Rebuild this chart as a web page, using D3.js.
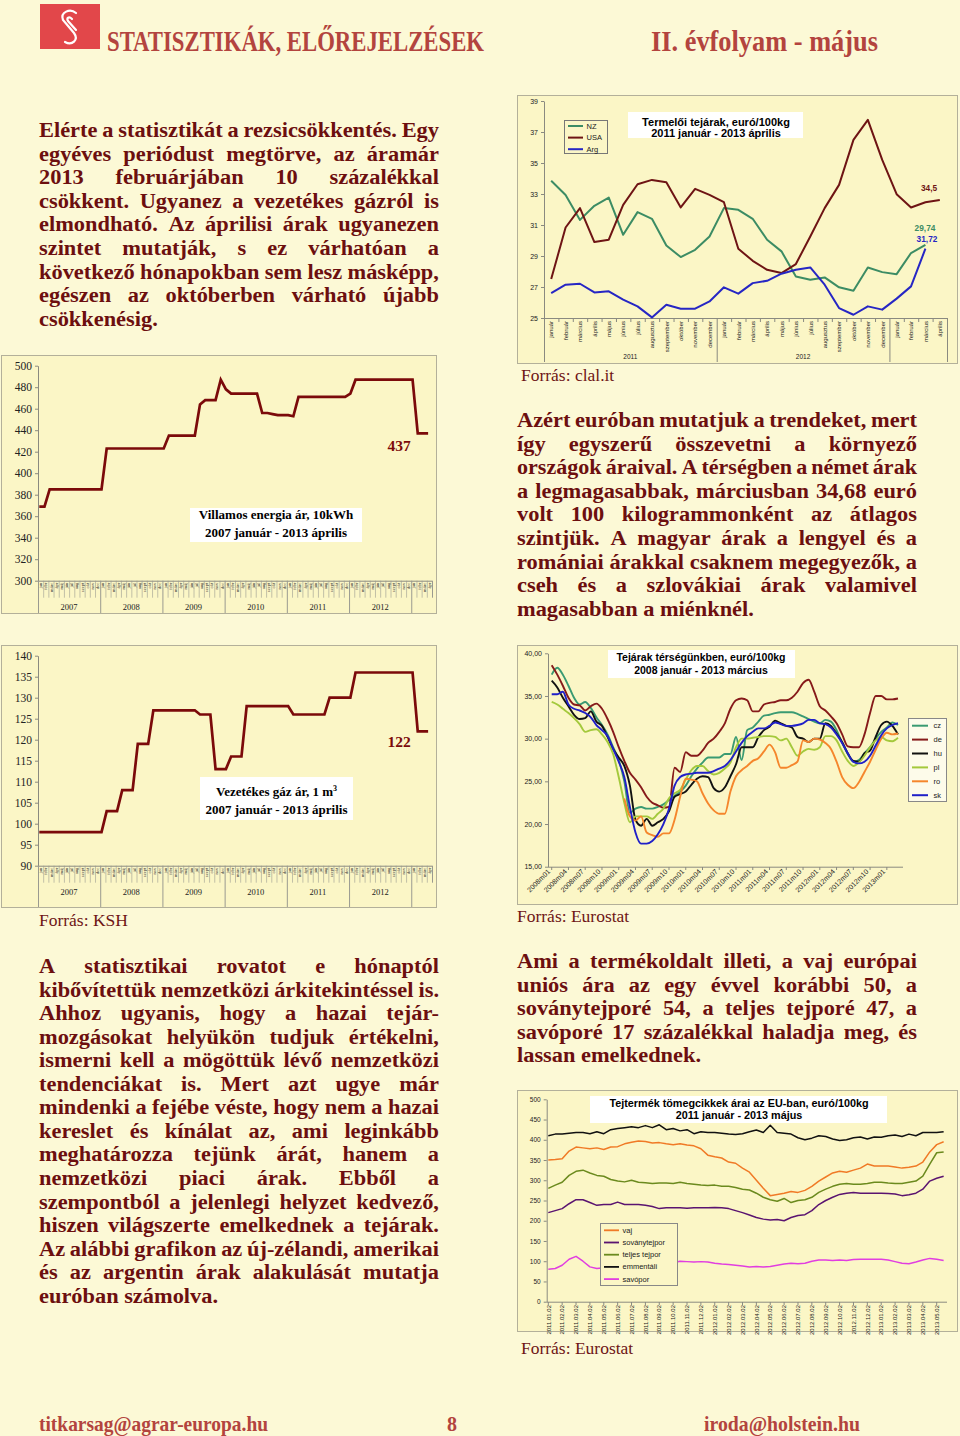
<!DOCTYPE html>
<html><head><meta charset="utf-8">
<script src="https://cdn.jsdelivr.net/npm/d3@7"></script>
<style>
body{margin:0;background:#fcf9d6;}
#page{position:relative;width:960px;height:1436px;overflow:hidden;}
</style></head>
<body><div id="page"></div>
<script>
// ---------------- DATA ----------------
const monthHU = ["január","február","március","április","május","június","július","augusztus","szeptember","október","november","december"];
const monthAbbr = ["jan","febr","márc","ápr","máj","jún","júl","aug","szept","okt","nov","dec"];

// Chart A: Termelői tejárak (2011 jan - 2013 ápr)
const farmYears = ["2011","2012","2013"];
const farmYearLabels = ["2011","2012"];
const nzPrice  = [33.85,32.94,31.33,32.24,32.77,30.37,31.83,31.40,29.68,28.93,29.40,30.26,32.09,31.98,31.40,30.05,29.30,27.68,27.47,27.62,26.98,26.76,28.26,27.96,27.83,29.19,29.72,null];
const usaPrice = [27.51,30.84,32.09,29.90,30.05,32.30,33.63,33.91,33.76,32.13,33.33,32.94,32.47,29.47,28.69,28.11,27.90,28.48,30.26,32.09,33.59,36.49,37.78,35.20,32.99,32.13,32.47,32.62];
const argPrice = [26.61,27.15,27.21,26.65,26.72,26.18,25.75,25.04,25.86,25.60,25.60,26.07,26.98,26.57,27.25,27.40,27.86,28.11,28.26,27.15,25.64,25.21,25.75,25.54,26.25,27.04,29.47,null];
const farmTicks = [25,27,29,31,33,35,37,39];

// Chart B & C: villamos energia, gáz (2007 jan - 2013 ápr)
const stepYears = [2007,2008,2009,2010,2011,2012,2013];
const elecPrice = [
 369,369,385,385,385,385,385,385,385,385,385,385,
 385,423,423,423,423,423,423,423,423,423,423,423,
 423,435,435,435,435,435,435,464,468,468,468,487,
 478,474,474,474,474,474,474,456,456,455,454,454,
 454,453,471,471,471,471,471,471,471,471,471,471,
 474,487,487,487,487,487,487,487,487,487,487,487,
 487,437,437,437];
const gasPrice = [
 98,98,98,98,98,98,98,98,98,98,98,98,
 98,103,103,103,108,108,108,119,119,119,127,127,
 127,127,127,127,127,127,127,126,126,126,113,113,
 113,116,116,116,128,128,128,128,128,128,128,128,
 128,126,126,126,126,126,126,126,130,130,130,130,
 130,136,136,136,136,136,136,136,136,136,136,136,
 136,122,122,122];
const elecTicks = [300,320,340,360,380,400,420,440,460,480,500];
const gasTicks = [90,95,100,105,110,115,120,125,130,135,140];

// Chart D: Tejárak térségünkben (2008m01 - 2013m03)
const regYears = [2008,2009,2010,2011,2012,2013];
const czPrice = [37.5,38.3,37.5,36.2,34.8,34.0,34.3,33.6,32.5,31.6,30.5,29.0,27.5,25.0,21.3,21.8,22.0,21.8,21.8,22.0,22.3,22.8,23.3,23.8,24.5,25.6,26.5,27.2,27.8,27.8,27.8,28.2,28.2,30.2,27.5,31.0,31.3,32.0,32.7,32.8,33.0,33.1,33.1,33.1,32.9,32.6,32.3,32.0,31.8,32.2,32.0,31.0,29.5,28.2,27.3,27.5,28.3,29.0,30.0,30.8,31.3,31.9,31.6];
const dePrice = [38.6,37.5,36.2,34.8,34.0,33.9,33.3,33.8,34.1,33.5,32.3,30.8,29.0,27.4,26.0,25.2,24.3,23.2,22.5,22.2,21.9,22.0,26.6,26.1,28.4,28.0,28.0,28.6,29.5,30.0,30.8,31.8,33.5,34.5,34.7,34.5,33.2,33.2,34.0,34.2,34.3,34.5,34.5,34.8,35.5,36.5,36.9,35.5,33.8,33.3,32.6,31.8,30.5,29.1,29.0,29.0,30.5,33.0,35.0,35.0,34.6,34.6,34.7];
const huPrice = [36.8,36.0,34.8,33.8,32.8,32.3,32.4,33.2,32.0,31.5,30.2,28.8,27.8,26.8,24.5,20.5,19.8,20.6,19.8,20.2,20.6,21.5,23.2,23.5,23.8,24.6,25.3,25.6,25.5,24.2,23.8,24.3,25.6,27.0,29.0,29.0,29.0,30.2,31.0,31.4,32.1,31.8,31.5,31.3,30.2,30.0,29.6,30.0,30.0,31.8,31.5,30.6,29.6,28.3,27.4,27.3,28.3,28.6,30.2,31.6,32.0,31.5,30.5];
const plPrice = [34.3,34.0,33.5,33.0,32.4,31.7,30.8,31.0,31.1,30.5,29.6,28.2,25.5,22.5,20.2,20.9,20.9,20.9,20.6,21.2,21.8,23.0,23.6,24.0,25.2,26.3,26.8,26.8,26.2,25.8,26.0,26.5,27.2,29.0,30.0,30.0,30.1,30.2,30.3,30.3,30.2,29.8,30.0,29.0,28.0,28.5,28.8,28.7,29.0,30.3,30.3,29.8,28.5,27.4,26.8,27.2,28.0,29.0,29.8,30.2,29.8,29.7,30.1];
const roPrice = [null,null,null,null,null,null,null,null,null,null,null,null,null,23.0,20.9,20.4,20.9,19.0,18.7,18.5,18.9,18.9,20.5,23.2,25.3,25.2,25.0,23.6,22.4,21.6,21.2,21.2,23.8,25.6,26.3,26.8,27.4,27.7,28.5,29.3,28.4,26.6,26.6,26.9,27.3,29.8,29.6,30.0,29.9,29.5,28.8,27.3,25.5,24.6,24.2,24.9,26.1,27.3,28.7,30.0,30.7,30.5,30.6];
const skPrice = [35.2,35.2,35.5,34.0,33.5,33.3,33.0,32.5,31.6,31.0,30.3,28.8,27.3,25.5,22.0,19.0,17.7,17.7,18.0,18.8,20.0,21.8,24.5,25.5,25.8,25.9,26.0,26.0,26.0,26.2,26.5,26.8,27.5,28.5,29.5,30.3,30.8,31.2,31.2,31.5,31.9,31.7,31.5,31.5,31.6,31.8,32.2,32.2,31.8,31.7,31.3,30.5,29.5,28.3,27.3,27.1,27.3,28.0,29.2,30.4,31.2,31.6,31.8];
const regSeries = ["cz","de","hu","pl","ro","sk"];
const regTicks = [15,20,25,30,35,40];

// Chart F: Tejtermék tömegcikkek (félhavi értékek, 2011 jan - 2013 máj)
const dairyLabels = ["2011.01.02","2011.02.02","2011.03.02","2011.04.02","2011.05.02","2011.06.02","2011.07.02","2011.08.02","2011.09.02","2011.10.02","2011.11.02","2011.12.02","2012.01.02","2012.02.02","2012.03.02","2012.04.02","2012.05.02","2012.06.02","2012.07.02","2012.08.02","2012.09.02","2012.10.02","2012.11.02","2012.12.02","2013.01.02","2013.02.02","2013.03.02","2013.04.02","2013.05.02"];
const butter = [350,351,353,372,382,380,378,380,376,382,383,390,394,397,396,392,393,390,388,390,387,385,378,362,358,355,345,342,330,320,300,280,262,265,268,272,270,275,285,298,308,318,322,320,325,330,340,335,335,335,333,330,332,335,345,370,388,395];
const smp    = [220,225,230,242,252,252,245,238,240,240,246,240,240,240,238,235,230,232,232,232,231,232,232,232,233,232,230,225,220,214,208,204,202,203,200,208,213,215,225,240,250,258,265,268,270,268,268,268,268,267,266,262,264,268,278,298,305,310];
const wmp    = [280,288,295,312,322,325,318,312,310,302,298,296,300,295,294,292,293,293,292,295,292,290,288,287,288,285,285,282,278,276,268,258,252,248,255,245,250,252,258,270,278,285,290,292,290,290,292,295,295,293,292,292,295,298,310,340,368,370];
const emment = [410,414,414,416,418,418,415,420,415,425,428,430,432,430,435,430,437,425,428,422,425,415,420,418,418,416,414,413,415,420,424,418,436,418,416,414,405,400,404,410,408,402,398,400,405,407,402,407,406,410,412,408,414,410,418,418,418,420];
const whey   = [80,82,90,105,112,100,86,82,84,86,85,85,86,88,89,90,92,93,96,100,99,98,99,98,95,93,92,90,88,86,87,86,87,90,93,95,94,95,100,103,103,102,103,102,104,105,105,105,105,103,99,95,94,98,103,107,105,102];
const dairyNames = ["vaj","soványtejpor","teljes tejpor","emmentáli","savópor"];
const dairyTicks = [0,50,100,150,200,250,300,350,400,450,500];

// ---------------- DRAWING ----------------
const W=960,H=1436;
const SANS="Liberation Sans, Arial, sans-serif";
const SERIF="Liberation Serif, Times New Roman, serif";
const BODY="#6c0f0f";
const svg=d3.select('#page').append('svg').attr('width',W).attr('height',H);
svg.append('rect').attr('width',W).attr('height',H).attr('fill','#fcf9d6');

// header
svg.append('rect').attr('x',40).attr('y',4).attr('width',60).attr('height',45).attr('fill','#e2474a');
svg.append('path').attr('d','M76 13 C 70 8, 60 12, 63 20 L 74 33 C 79 40, 72 46, 65 42 M 72 19 C 69 16, 66 18, 68 21 L 76 30')
  .attr('fill','none').attr('stroke','#fff').attr('stroke-width',2.2).attr('stroke-linecap','round');
svg.append('text').attr('x',107).attr('y',51).attr('font-family',SERIF).attr('font-weight','bold').attr('font-size',28.5).attr('fill','#b3443e')
  .attr('textLength',377).attr('lengthAdjust','spacingAndGlyphs').text('STATISZTIKÁK, ELŐREJELZÉSEK');
svg.append('text').attr('x',651).attr('y',51).attr('font-family',SERIF).attr('font-weight','bold').attr('font-size',28.5).attr('fill','#b3443e')
  .attr('textLength',227).attr('lengthAdjust','spacingAndGlyphs').text('II. évfolyam - május');

// footer
function foot(t,x,w){svg.append('text').attr('x',x).attr('y',1431).attr('font-family',SERIF).attr('font-weight','bold').attr('font-size',21.5).attr('fill','#b3443e')
  .attr('textLength',w).attr('lengthAdjust','spacingAndGlyphs').text(t);}
foot('titkarsag@agrar-europa.hu',39,229); foot('8',447,10); foot('iroda@holstein.hu',704,156);

// paragraphs (justified lines, glyphs widened to approximate Cambria)
function para(lines,x,y0,width,lh){
  const g=svg.append('g').attr('font-family',SERIF).attr('font-weight','bold').attr('font-size',20).attr('fill',BODY);
  const SX=1.12;
  lines.forEach((ln,i)=>{
    const y=y0+i*lh, words=ln.split(' ');
    const ts=words.map(w=>g.append('text').text(w));
    const raw=ts.map(t=>t.node().getComputedTextLength());
    const last=i===lines.length-1;
    let sx=SX;
    const minGap=4;
    if(d3.sum(raw)*sx+minGap*(words.length-1)>width) sx=(width-minGap*(words.length-1))/d3.sum(raw);
    const ws=raw.map(w=>w*sx);
    const gap=last||words.length<2?5.5:(width-d3.sum(ws))/(words.length-1);
    let cx=x; ts.forEach((t,j)=>{t.attr('transform',`translate(${cx},${y}) scale(${sx},1)`);cx+=ws[j]+gap;});
  });
}
para(["Elérte a statisztikát a rezsicsökkentés. Egy","egyéves periódust megtörve, az áramár","2013 februárjában 10 százalékkal","csökkent. Ugyanez a vezetékes gázról is","elmondható. Az áprilisi árak ugyanezen","szintet mutatják, s ez várhatóan a","következő hónapokban sem lesz másképp,","egészen az októberben várható újabb","csökkenésig."],39,137,400,23.6);
para(["Azért euróban mutatjuk a trendeket, mert","így egyszerű összevetni a környező","országok áraival. A térségben a német árak","a legmagasabbak, márciusban 34,68 euró","volt 100 kilogrammonként az átlagos","szintjük. A magyar árak a lengyel és a","romániai árakkal csaknem megegyezők, a","cseh és a szlovákiai árak valamivel","magasabban a miénknél."],517,427,400,23.6);
para(["A statisztikai rovatot e hónaptól","kibővítettük nemzetközi árkitekintéssel is.","Ahhoz ugyanis, hogy a hazai tejár-","mozgásokat helyükön tudjuk értékelni,","ismerni kell a mögöttük lévő nemzetközi","tendenciákat is. Mert azt ugye már","mindenki a fejébe véste, hogy nem a hazai","kereslet és kínálat az, ami leginkább","meghatározza tejünk árát, hanem a","nemzetközi piaci árak. Ebből a","szempontból a jelenlegi helyzet kedvező,","hiszen világszerte emelkednek a tejárak.","Az alábbi grafikon az új-zélandi, amerikai","és az argentin árak alakulását mutatja","euróban számolva."],39,973,400,23.55);
para(["Ami a termékoldalt illeti, a vaj európai","uniós ára az egy évvel korábbi 50, a","soványtejporé 54, a teljes tejporé 47, a","savóporé 17 százalékkal haladja meg, és","lassan emelkednek."],517,968,400,23.6);

function src(t,x,y){svg.append('text').attr('x',x).attr('y',y).attr('font-family',SERIF).attr('font-size',16.5).attr('fill','#6e1515')
  .attr('transform',`translate(${x},${y}) scale(1.06,1) translate(${-x},${-y})`).text(t);}
src('Forrás: clal.it',521,381); src('Forrás: KSH',39,926); src('Forrás: Eurostat',517,922); src('Forrás: Eurostat',521,1354);

// helpers
function box(x,y,w,h){svg.append('rect').attr('x',x+.5).attr('y',y+.5).attr('width',w).attr('height',h).attr('fill','#fbf6c6').attr('stroke','#b3b09a').attr('stroke-width',1);}
function yAxis(scale,ticks,x,fmt,font,size,pad){
  const g=svg.append('g').attr('transform',`translate(${x},0)`)
    .call(d3.axisLeft(scale).tickValues(ticks).tickSize(3).tickSizeOuter(0).tickPadding(pad).tickFormat(fmt));
  g.select('.domain').attr('stroke','#8a8a80');
  g.selectAll('.tick line').attr('stroke','#8a8a80');
  g.selectAll('.tick text').attr('font-family',font).attr('font-size',size).attr('fill','#222');
  return g;
}
function titleBox(x,y,w,h,l1,l2,font,size,cx,b1,b2){
  svg.append('rect').attr('x',x).attr('y',y).attr('width',w).attr('height',h).attr('fill','#fff');
  const t=svg.append('g').attr('font-family',font).attr('font-weight','bold').attr('font-size',size).attr('fill','#000').attr('text-anchor','middle');
  t.append('text').attr('x',cx).attr('y',b1).text(l1);
  t.append('text').attr('x',cx).attr('y',b2).text(l2);
  return t;
}

// ===== Chart A: Termelői tejárak =====
(function(){
  box(517,95,440,268);
  const cats=farmYears.flatMap(y=>(y==="2013"?monthHU.slice(0,4):monthHU).map(m=>y+" "+m));
  const x=d3.scaleBand().domain(cats).range([544,947]);
  const xc=d=>x(d)+x.bandwidth()/2;
  const y=d3.scaleLinear().domain([25,39]).range([318,101]);
  yAxis(y,farmTicks,544,d3.format('d'),SANS,7,3);
  const ax=svg.append('g');
  ax.append('line').attr('x1',544).attr('x2',947).attr('y1',318.5).attr('y2',318.5).attr('stroke','#8a8a80');
  cats.forEach((c,i)=>{
    ax.append('line').attr('x1',x(c)+.5).attr('x2',x(c)+.5).attr('y1',318).attr('y2',i%12===0?362:322).attr('stroke','#8a8a80');
    ax.append('text').attr('transform',`translate(${xc(c)+2.3},321) rotate(-90)`).attr('text-anchor','end')
      .attr('font-family',SANS).attr('font-size',6).attr('fill','#222').text(c.split(' ')[1]);
  });
  ax.append('line').attr('x1',947.5).attr('x2',947.5).attr('y1',318).attr('y2',362).attr('stroke','#8a8a80');
  farmYearLabels.forEach((yr,i)=>{
    const a=x(cats[i*12]), b=x(cats[i*12+11])+x.bandwidth();
    ax.append('text').attr('x',(a+b)/2).attr('y',359).attr('text-anchor','middle').attr('font-family',SANS).attr('font-size',6.5).attr('fill','#222').text(yr);
  });
  const line=d3.line().defined(d=>d.v!=null).x(d=>xc(d.c)).y(d=>y(d.v));
  const ser=[{v:nzPrice,c:'#3c8c64'},{v:usaPrice,c:'#6e1414'},{v:argPrice,c:'#2626c4'}];
  ser.forEach(s=>svg.append('path').datum(s.v.map((v,i)=>({c:cats[i],v})))
    .attr('d',line).attr('fill','none').attr('stroke',s.c).attr('stroke-width',2).attr('stroke-linejoin','round'));
  // legend
  svg.append('rect').attr('x',564.5).attr('y',120.5).attr('width',43).attr('height',33).attr('fill','#fbf6c6').attr('stroke','#777');
  [['NZ','#3c8c64'],['USA','#6e1414'],['Arg','#2626c4']].forEach((d,i)=>{
    const yy=126+i*11.6;
    svg.append('line').attr('x1',568).attr('x2',583).attr('y1',yy).attr('y2',yy).attr('stroke',d[1]).attr('stroke-width',2);
    svg.append('text').attr('x',586.5).attr('y',yy+2.6).attr('font-family',SANS).attr('font-size',7.5).attr('fill','#222').text(d[0]);
  });
  titleBox(628,112,175,26,'Termelői tejárak, euró/100kg','2011 január - 2013 április',SANS,11,716,125.5,136.5);
  const lab=svg.append('g').attr('font-family',SANS).attr('font-weight','bold').attr('font-size',8.3).attr('text-anchor','middle');
  lab.append('text').attr('x',929).attr('y',191).attr('fill','#6e1414').text('34,5');
  lab.append('text').attr('x',925).attr('y',231).attr('fill','#3c8c64').text('29,74');
  lab.append('text').attr('x',927).attr('y',242).attr('fill','#2626c4').text('31,72');
})();

// ===== Chart B/C: step charts =====
function stepChart(cfg){
  box(cfg.bx,cfg.by,cfg.bw,cfg.bh);
  const cats=stepYears.flatMap(y=>(y===2013?monthAbbr.slice(0,4):monthAbbr).map(m=>y+" "+m));
  const x=d3.scaleBand().domain(cats).range([38,432]);
  const bw=x.bandwidth();
  const y=d3.scaleLinear().domain(cfg.dom).range([cfg.y0,cfg.y1]);
  yAxis(y,cfg.ticks,38,d3.format('d'),SERIF,11.5,3);
  const ax=svg.append('g');
  ax.append('line').attr('x1',38).attr('x2',432).attr('y1',cfg.y0+.5).attr('y2',cfg.y0+.5).attr('stroke','#8a8a80');
  cats.forEach((c,i)=>{
    ax.append('line').attr('x1',x(c)+.5).attr('x2',x(c)+.5).attr('y1',cfg.y0).attr('y2',i%12===0?cfg.by+cfg.bh:cfg.y0+17).attr('stroke','#9a9a90').attr('stroke-width',i%12===0?1:0.6);
    ax.append('text').attr('transform',`translate(${x(c)+bw/2+1.6},${cfg.y0+2}) rotate(-90)`).attr('text-anchor','end')
      .attr('font-family',SERIF).attr('font-size',4.6).attr('fill','#333').text(c.split(' ')[1]);
  });
  ax.append('line').attr('x1',432.5).attr('x2',432.5).attr('y1',cfg.y0).attr('y2',cfg.y0+17).attr('stroke','#9a9a90');
  stepYears.slice(0,6).forEach((yr,i)=>{
    const a=x(cats[i*12]), b=x(cats[i*12+11])+bw;
    ax.append('text').attr('x',(a+b)/2).attr('y',cfg.y0+29.5).attr('text-anchor','middle').attr('font-family',SERIF).attr('font-size',8.5).attr('fill','#222').text(yr);
  });
  const line=d3.line().x(d=>x(d.c)+bw*0.25).y(d=>y(d.v));
  svg.append('path').datum(cfg.vals.map((v,i)=>({c:cats[i],v}))).attr('d',line).attr('fill','none')
    .attr('stroke','#7b0a0a').attr('stroke-width',2.7).attr('stroke-linejoin','miter');
  const t=titleBox(cfg.tb[0],cfg.tb[1],cfg.tb[2],cfg.tb[3],cfg.t1,cfg.t2,SERIF,13,cfg.tb[0]+cfg.tb[2]/2,cfg.b1,cfg.b2);
  if(cfg.sup){ t.select('text').append('tspan').attr('font-size',8).attr('dy',-5).text(cfg.sup); }
  svg.append('text').attr('x',cfg.lab[0]).attr('y',cfg.lab[1]).attr('font-family',SERIF).attr('font-weight','bold').attr('font-size',15.5)
    .attr('fill','#7b0a0a').attr('text-anchor','middle').text(cfg.lab[2]);
}
stepChart({bx:1,by:355,bw:435,bh:258,dom:[300,500],y0:580.7,y1:365.7,ticks:elecTicks,vals:elecPrice,
  tb:[190,508,172,34],t1:'Villamos energia ár, 10kWh',t2:'2007 január - 2013 április',b1:519,b2:537,lab:[399,451,String(elecPrice[elecPrice.length-1])]});
stepChart({bx:1,by:645,bw:435,bh:262,dom:[90,140],y0:865.7,y1:655.7,ticks:gasTicks,vals:gasPrice,sup:'3',
  tb:[200,777,153,43],t1:'Vezetékes gáz ár, 1 m',t2:'2007 január - 2013 április',b1:796,b2:814,lab:[399,747,String(gasPrice[gasPrice.length-1])]});

// ===== Chart D: Tejárak térségünkben =====
(function(){
  box(517,645,440,259);
  const cats=regYears.flatMap(y=>(y===2013?[1,2,3]:d3.range(1,13)).map(m=>y+"m"+String(m).padStart(2,'0')));
  const x=d3.scalePoint().domain(cats).range([551.7,898]);
  const y=d3.scaleLinear().domain([15,40]).range([866.7,653.3]);
  yAxis(y,regTicks,548,d=>d3.format('.2f')(d).replace('.',','),SANS,7,3);
  const ax=svg.append('g');
  ax.append('line').attr('x1',548).attr('x2',903).attr('y1',867.2).attr('y2',867.2).attr('stroke','#8a8a80');
  cats.forEach((c,i)=>{
    if(i%3===0){
      ax.append('line').attr('x1',x(c)).attr('x2',x(c)).attr('y1',867).attr('y2',870).attr('stroke','#8a8a80');
      ax.append('text').attr('transform',`translate(${x(c)-1},${872}) rotate(-45)`).attr('text-anchor','end')
        .attr('font-family',SANS).attr('font-size',7).attr('fill','#222').text(c);
    }
  });
  const cols={cz:'#3a9a72',de:'#861a1a',hu:'#111111',pl:'#a4c93c',ro:'#f5862c',sk:'#2020c8'};
  const vals={cz:czPrice,de:dePrice,hu:huPrice,pl:plPrice,ro:roPrice,sk:skPrice};
  const line=d3.line().defined(d=>d.v!=null).x(d=>x(d.c)).y(d=>y(d.v)).curve(d3.curveMonotoneX);
  regSeries.forEach(s=>svg.append('path').datum(vals[s].map((v,i)=>({c:cats[i],v}))).attr('d',line)
    .attr('fill','none').attr('stroke',cols[s]).attr('stroke-width',1.9).attr('stroke-linejoin','round'));
  svg.append('rect').attr('x',908.5).attr('y',718.5).attr('width',38).attr('height',83).attr('fill','#fdfbea').attr('stroke','#888');
  regSeries.forEach((s,i)=>{
    const yy=725.7+i*13.9;
    svg.append('line').attr('x1',912).attr('x2',928).attr('y1',yy).attr('y2',yy).attr('stroke',cols[s]).attr('stroke-width',2);
    svg.append('text').attr('x',933.5).attr('y',yy+2.6).attr('font-family',SANS).attr('font-size',7.5).attr('fill','#222').text(s);
  });
  titleBox(608,650,187,28,'Tejárak térségünkben, euró/100kg','2008 január - 2013 március',SANS,10.5,701,661,674);
})();

// ===== Chart F: Tejtermék tömegcikkek =====
(function(){
  box(517,1090,440,241);
  const x=d3.scaleLinear().domain([0,dairyLabels.length-1]).range([548.3,936.7]);
  const y=d3.scaleLinear().domain([0,500]).range([1301.7,1099.3]);
  yAxis(y,dairyTicks,546.7,d3.format('d'),SANS,6.5,3);
  const ax=svg.append('g');
  ax.append('line').attr('x1',546.7).attr('x2',947).attr('y1',1302.2).attr('y2',1302.2).attr('stroke','#8a8a80');
  dairyLabels.forEach((l,i)=>{
    ax.append('line').attr('x1',x(i)).attr('x2',x(i)).attr('y1',1302).attr('y2',1305).attr('stroke','#8a8a80');
    ax.append('text').attr('transform',`translate(${x(i)+2.2},1305) rotate(-90)`).attr('text-anchor','end')
      .attr('font-family',SANS).attr('font-size',6).attr('fill','#222').text(l);
  });
  const sers=[{v:butter,c:'#f07a26'},{v:smp,c:'#5a1470'},{v:wmp,c:'#6b8a1e'},{v:emment,c:'#111111'},{v:whey,c:'#e13ee0'}];
  const line=d3.line().x((d,i)=>x(i/2)).y(d=>y(d));
  sers.forEach(s=>svg.append('path').datum(s.v).attr('d',line).attr('fill','none').attr('stroke',s.c).attr('stroke-width',1.5).attr('stroke-linejoin','round'));
  svg.append('rect').attr('x',600.5).attr('y',1223.5).attr('width',77).attr('height',62).attr('fill','#fbf6c6').attr('stroke','#888');
  dairyNames.forEach((n,i)=>{
    const yy=1230.3+i*12.2;
    svg.append('line').attr('x1',604).attr('x2',619).attr('y1',yy).attr('y2',yy).attr('stroke',sers[i].c).attr('stroke-width',1.8);
    svg.append('text').attr('x',622.5).attr('y',yy+2.5).attr('font-family',SANS).attr('font-size',7.5).attr('fill','#222').text(n);
  });
  titleBox(590,1096,297,27,'Tejtermék tömegcikkek árai az EU-ban, euró/100kg','2011 január - 2013 május',SANS,10.8,739,1107,1119);
})();
</script>
</body></html>
